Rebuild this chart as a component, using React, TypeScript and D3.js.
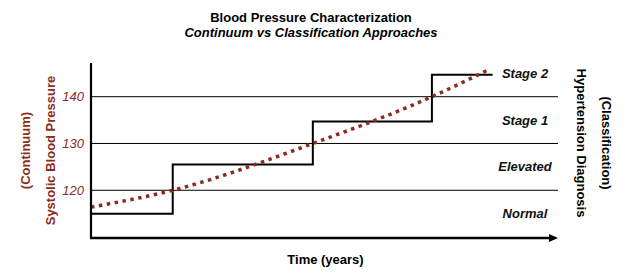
import React, { useEffect, useRef } from 'react';
import * as d3 from 'd3';

// blood pressure on a continuum vs. classification bands
const yTicks = [120, 130, 140];
const bandLabels = ['Normal', 'Elevated', 'Stage 1', 'Stage 2'];
const bandMids = [115, 125, 135, 145];

// continuous trajectory (time in years, mmHg)
const curveTime = [0, 1.75, 4.75, 7.3, 8.5];
const curveValue = [116.4, 120, 130, 140, 145.7];

// diagnosis step function
const stepTime = [0, 1.75, 4.75, 7.3, 8.6];
const stepValue = [115, 125.5, 134.7, 144.7, 144.7];

const RED = '#8B2D1E';
const FONT = '"Liberation Sans", Arial, Helvetica, sans-serif';

export default function App() {
  const ref = useRef<SVGSVGElement>(null);

  useEffect(() => {
    if (!ref.current) return;
    const svg = d3.select(ref.current);
    svg.selectAll('*').remove();

    const margin = { top: 63, right: 82, bottom: 39, left: 91 };
    const width = 640;
    const height = 277;

    const x = d3.scaleLinear().domain([0, 10]).range([margin.left, width - margin.right]);
    const y = d3.scaleLinear().domain([109.8, 147.2]).range([height - margin.bottom, margin.top]);

    const g = svg.append('g').attr('font-family', FONT);

    // grid lines
    g.selectAll('line.grid')
      .data(yTicks)
      .enter()
      .append('line')
      .attr('class', 'grid')
      .attr('x1', x(0))
      .attr('x2', x(10))
      .attr('y1', d => y(d))
      .attr('y2', d => y(d))
      .attr('stroke', '#000')
      .attr('stroke-width', 1);

    // tick labels
    g.selectAll('text.tick')
      .data(yTicks)
      .enter()
      .append('text')
      .attr('x', x(0) - 7)
      .attr('y', d => y(d))
      .attr('dy', '0.35em')
      .attr('text-anchor', 'end')
      .attr('font-size', 13)
      .attr('font-style', 'italic')
      .attr('fill', RED)
      .text(d => d);

    // step line
    const stepData = stepTime.map((t, i) => ({ t, v: stepValue[i] }));
    g.append('path')
      .datum(stepData)
      .attr('fill', 'none')
      .attr('stroke', '#000')
      .attr('stroke-width', 2)
      .attr('d', d3.line<any>().x(d => x(d.t)).y(d => y(d.v)).curve(d3.curveStepAfter));

    // continuum curve
    const curveData = curveTime.map((t, i) => ({ t, v: curveValue[i] }));
    g.append('path')
      .datum(curveData)
      .attr('fill', 'none')
      .attr('stroke', RED)
      .attr('stroke-width', 3.5)
      .attr('stroke-dasharray', '3.5,4.5')
      .attr('d', d3.line<any>().x(d => x(d.t)).y(d => y(d.v)).curve(d3.curveMonotoneX));

    // axes
    const [x0, x1] = x.range();
    const [yb, yt] = y.range();
    g.append('line')
      .attr('x1', x0).attr('x2', x0)
      .attr('y1', yt).attr('y2', yb + 1)
      .attr('stroke', '#000').attr('stroke-width', 2.2);
    g.append('line')
      .attr('x1', x0 - 1).attr('x2', x1 - 6)
      .attr('y1', yb).attr('y2', yb)
      .attr('stroke', '#000').attr('stroke-width', 2.4);
    g.append('path')
      .attr('d', `M${x1},${yb} L${x1 - 9},${yb - 4} L${x1 - 9},${yb + 4} Z`)
      .attr('fill', '#000');

    // band labels
    g.selectAll('text.band')
      .data(bandLabels)
      .enter()
      .append('text')
      .attr('x', 525)
      .attr('y', (d, i) => y(bandMids[i]))
      .attr('dy', '0.35em')
      .attr('text-anchor', 'middle')
      .attr('font-size', 13)
      .attr('font-weight', 'bold')
      .attr('font-style', 'italic')
      .attr('fill', '#111')
      .text(d => d);

    // titles
    g.append('text')
      .attr('x', 311).attr('y', 22)
      .attr('text-anchor', 'middle')
      .attr('font-size', 13)
      .attr('font-weight', 'bold')
      .text('Blood Pressure Characterization');
    g.append('text')
      .attr('x', 311).attr('y', 37)
      .attr('text-anchor', 'middle')
      .attr('font-size', 13)
      .attr('font-weight', 'bold')
      .attr('font-style', 'italic')
      .text('Continuum vs Classification Approaches');

    g.append('text')
      .attr('x', (x0 + x1) / 2 + 1).attr('y', 264)
      .attr('text-anchor', 'middle')
      .attr('font-size', 13)
      .attr('font-weight', 'bold')
      .text('Time (years)');

    // left axis titles
    const yMid = (yt + yb) / 2;
    g.append('text')
      .attr('transform', `translate(50,${yMid}) rotate(-90)`)
      .attr('dy', '0.35em')
      .attr('text-anchor', 'middle')
      .attr('font-size', 13)
      .attr('font-weight', 'bold')
      .attr('fill', RED)
      .text('Systolic Blood Pressure');
    g.append('text')
      .attr('transform', `translate(25,${yMid}) rotate(-90)`)
      .attr('dy', '0.35em')
      .attr('text-anchor', 'middle')
      .attr('font-size', 13)
      .attr('font-weight', 'bold')
      .attr('fill', RED)
      .text('(Continuum)');

    // right axis titles
    g.append('text')
      .attr('transform', `translate(582,143) rotate(90)`)
      .attr('dy', '0.35em')
      .attr('text-anchor', 'middle')
      .attr('font-size', 13)
      .attr('font-weight', 'bold')
      .text('Hypertension Diagnosis');
    g.append('text')
      .attr('transform', `translate(607,143) rotate(90)`)
      .attr('dy', '0.35em')
      .attr('text-anchor', 'middle')
      .attr('font-size', 13)
      .attr('font-weight', 'bold')
      .text('(Classification)');
  }, []);

  return (
    <svg
      ref={ref}
      width={640}
      height={277}
      style={{ position: 'absolute', left: 0, top: 0, background: '#fff' }}
    />
  );
}
